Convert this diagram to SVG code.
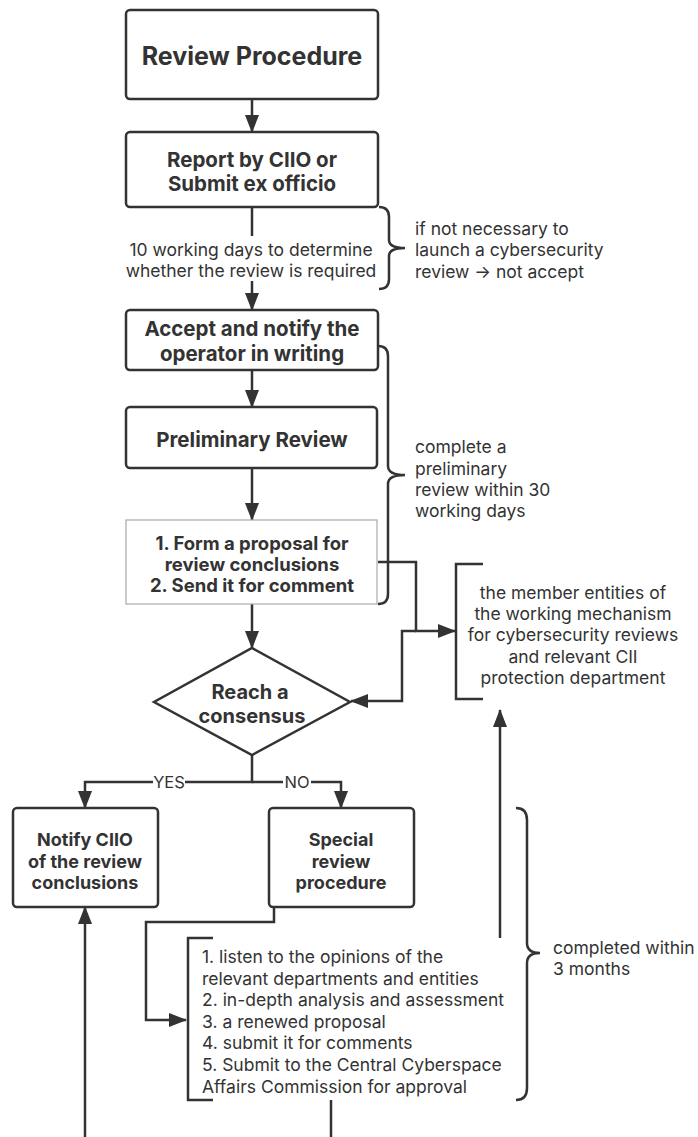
<svg xmlns="http://www.w3.org/2000/svg" width="698" height="1137" viewBox="0 0 698 1137">
<style>
.box{fill:#fff;stroke:#333;stroke-width:2.5}
.pbox{fill:#fff;stroke:#aaa;stroke-width:1.2}
.b{font-family:Inter,"Noto Sans","Liberation Sans",sans-serif;font-weight:bold;fill:#333;text-anchor:middle;dominant-baseline:central}
.n{font-family:Inter,"Noto Sans","Liberation Sans",sans-serif;fill:#333;font-size:17.5px;dominant-baseline:central}
.c{text-anchor:middle}
.ln{fill:none;stroke:#333;stroke-width:2.5}
.br{fill:none;stroke:#333;stroke-width:2.5}
</style>
<defs>
<marker id="ah" markerWidth="18" markerHeight="14" refX="17" refY="7" orient="auto" markerUnits="userSpaceOnUse"><path d="M0,0 L18,7 L0,14 z" fill="#333"/></marker>
</defs>
<rect width="698" height="1137" fill="#fff"/>
<g id="connectors">
<line class="ln" x1="252" y1="99" x2="252" y2="132" marker-end="url(#ah)"/>
<line class="ln" x1="252" y1="207" x2="252" y2="236"/>
<line class="ln" x1="252" y1="281" x2="252" y2="310" marker-end="url(#ah)"/>
<line class="ln" x1="252" y1="370" x2="252" y2="407" marker-end="url(#ah)"/>
<line class="ln" x1="252" y1="468" x2="252" y2="520" marker-end="url(#ah)"/>
<line class="ln" x1="252" y1="604" x2="252" y2="648" marker-end="url(#ah)"/>
<polyline class="ln" points="378,562 416,562 416,631 455,631" marker-end="url(#ah)"/>
<polyline class="ln" points="416,631 402,631 402,701 351,701" marker-end="url(#ah)"/>
<polyline class="ln" points="252,755 252,782 85,782 85,808" marker-end="url(#ah)"/>
<polyline class="ln" points="252,782 341,782 341,808" marker-end="url(#ah)"/>
<polyline class="ln" points="274,907 274,922 146,922 146,1020 186,1020" marker-end="url(#ah)"/>
<line class="ln" x1="500" y1="938" x2="500" y2="710" marker-end="url(#ah)"/>
<line class="ln" x1="85" y1="1137" x2="85" y2="907" marker-end="url(#ah)"/>
<line class="ln" x1="331" y1="1100" x2="331" y2="1137"/>
<path class="br" d="M379,207 Q389,207 389,217 L389,240 Q389,248 405,248 Q389,248 389,256 L389,279 Q389,289 379,289"/>
<path class="br" d="M378,346 Q388,346 388,356 L388,466 Q388,475 405,475 Q388,475 388,484 L388,594 Q388,604 378,604"/>
<path class="br" d="M516,808 Q527,808 527,820 L527,943 Q527,953 540,953 Q527,953 527,963 L527,1088 Q527,1100 516,1100"/>
<polyline class="br" points="483,564 456,564 456,699 483,699"/>
<polyline class="br" points="213,938 188,938 188,1100 213,1100"/>
<rect x="153" y="772" width="32" height="20" fill="#fff"/>
<rect x="283" y="772" width="28" height="20" fill="#fff"/>
<text class="n c" x="169" y="782" style="font-size:16.5px">YES</text>
<text class="n c" x="297" y="782" style="font-size:16.5px">NO</text>
<text class="n c" x="251" y="249">10 working days to determine</text>
<text class="n c" x="251" y="270">whether the review is required</text>
<text class="n" x="415" y="228">if not necessary to</text>
<text class="n" x="415" y="249">launch a cybersecurity</text>
<text class="n" x="415" y="271">review → not accept</text>
<text class="n" x="415" y="446">complete a</text>
<text class="n" x="415" y="468">preliminary</text>
<text class="n" x="415" y="489">review within 30</text>
<text class="n" x="415" y="510">working days</text>
<text class="n" x="553" y="947">completed within</text>
<text class="n" x="553" y="968">3 months</text>
</g>
<g id="n-review-procedure">
<rect class="box" x="126" y="10" width="252" height="89" rx="4"/>
<text class="b" x="252" y="56" style="font-size:25px">Review Procedure</text>
</g>
<g id="n-report">
<rect class="box" x="126" y="132" width="252" height="75" rx="4"/>
<text class="b" x="252" y="159" style="font-size:20.5px">Report by CIIO or</text>
<text class="b" x="252" y="183" style="font-size:20.5px">Submit ex officio</text>
</g>
<g id="n-accept">
<rect class="box" x="126" y="310" width="252" height="60" rx="4"/>
<text class="b" x="252" y="328" style="font-size:20.5px">Accept and notify the</text>
<text class="b" x="252" y="353" style="font-size:20.5px">operator in writing</text>
</g>
<g id="n-preliminary">
<rect class="box" x="126" y="407" width="251" height="61" rx="4"/>
<text class="b" x="252" y="439" style="font-size:20.5px">Preliminary Review</text>
</g>
<g id="n-proposal">
<rect class="pbox" x="126" y="520" width="251" height="84"/>
<text class="b" x="252" y="543" style="font-size:18.5px">1. Form a proposal for</text>
<text class="b" x="252" y="564" style="font-size:18.5px">review conclusions</text>
<text class="b" x="252" y="585" style="font-size:18.5px">2. Send it for comment</text>
</g>
<g id="n-members">
<text class="n c" x="573" y="592">the member entities of</text>
<text class="n c" x="573" y="613">the working mechanism</text>
<text class="n c" x="573" y="634">for cybersecurity reviews</text>
<text class="n c" x="573" y="656">and relevant CII</text>
<text class="n c" x="573" y="677">protection department</text>
</g>
<g id="n-consensus">
<polygon points="252,648 350,702 252,755 154,702" fill="#fff" stroke="#333" stroke-width="2.5"/>
<text class="b" x="250" y="692" style="font-size:20px">Reach a</text>
<text class="b" x="252" y="716" style="font-size:20px">consensus</text>
</g>
<g id="n-notify">
<rect class="box" x="13" y="808" width="145" height="99" rx="4"/>
<text class="b" x="85" y="839" style="font-size:18px">Notify CIIO</text>
<text class="b" x="85" y="861" style="font-size:18px">of the review</text>
<text class="b" x="85" y="882" style="font-size:18px">conclusions</text>
</g>
<g id="n-special">
<rect class="box" x="269" y="808" width="145" height="99" rx="4"/>
<text class="b" x="341" y="839" style="font-size:18px">Special</text>
<text class="b" x="341" y="861" style="font-size:18px">review</text>
<text class="b" x="341" y="882" style="font-size:18px">procedure</text>
</g>
<g id="n-steps">
<text class="n" x="202" y="956">1. listen to the opinions of the</text>
<text class="n" x="202" y="978">relevant departments and entities</text>
<text class="n" x="202" y="999">2. in-depth analysis and assessment</text>
<text class="n" x="202" y="1021">3. a renewed proposal</text>
<text class="n" x="202" y="1042">4. submit it for comments</text>
<text class="n" x="202" y="1064">5. Submit to the Central Cyberspace</text>
<text class="n" x="202" y="1086">Affairs Commission for approval</text>
</g>
</svg>
